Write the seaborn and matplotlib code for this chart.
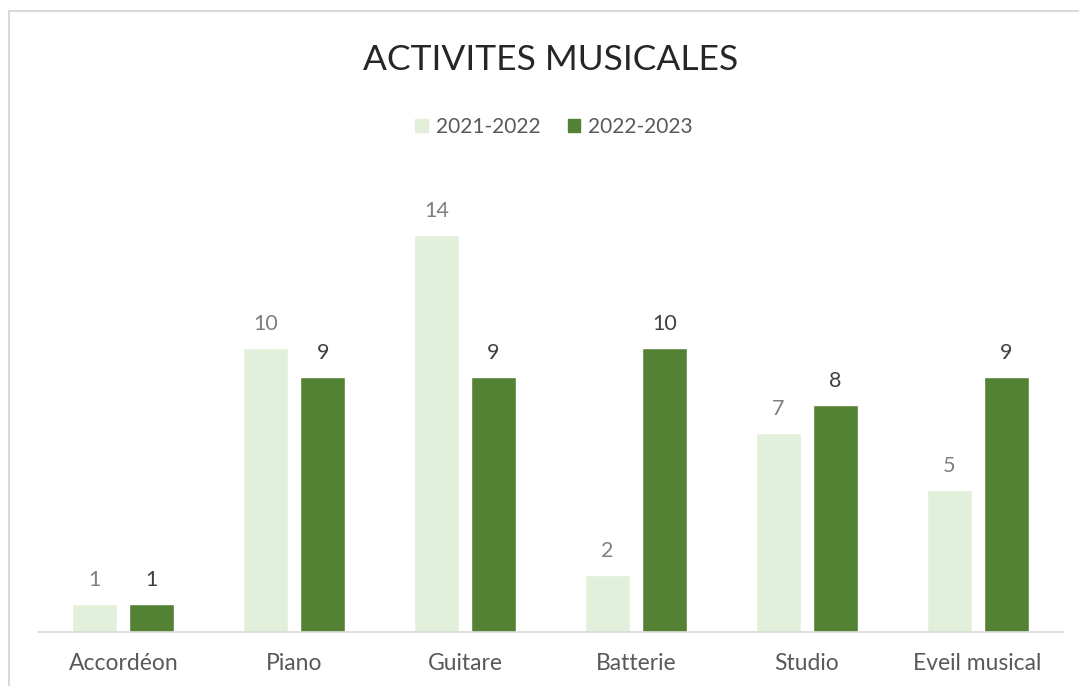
import matplotlib
matplotlib.use('Agg')
import matplotlib.pyplot as plt
import matplotlib.lines as mlines
import seaborn as sns
import pandas as pd

categories = ['Accordéon', 'Piano', 'Guitare', 'Batterie', 'Studio', 'Eveil musical']
season_a = [1, 10, 14, 2, 7, 5]
season_b = [1, 9, 9, 10, 8, 9]
seasons = ['2021-2022', '2022-2023']

df = pd.DataFrame({
    'Activite': categories * 2,
    'Saison': [seasons[0]] * len(categories) + [seasons[1]] * len(categories),
    'Nombre': season_a + season_b,
})

sns.set_theme(style='white')
plt.rcParams['font.family'] = ['Lato', 'DejaVu Sans']

W, H = 1079, 686
fig = plt.figure(figsize=(W / 100, H / 100), dpi=100)
ax = fig.add_axes([38 / W, (H - 632) / H, (1063 - 38) / W, (632 - 178) / H])

palette = {seasons[0]: '#E2EFDA', seasons[1]: '#548235'}
sns.barplot(data=df, x='Activite', y='Nombre', hue='Saison', palette=palette,
            width=0.667, gap=0.21, ax=ax, legend=False, saturation=1)

ax.set_ylim(0, 16)
ax.set_xlim(-0.5, len(categories) - 0.5)
ax.set_xlabel('')
ax.set_ylabel('')
ax.set_yticks([])
for s in ['top', 'right', 'left']:
    ax.spines[s].set_visible(False)
ax.spines['bottom'].set_color('#D9D9D9')
ax.spines['bottom'].set_linewidth(1.2)
ax.tick_params(axis='x', length=0, pad=15, labelsize=16.5, labelcolor='#595959')

label_colors = ['#7F7F7F', '#404040']
for cont, col in zip(ax.containers, label_colors):
    ax.bar_label(cont, padding=10, fontsize=15.5, color=col)

fig.text(551 / W, 1 - 60 / H, 'ACTIVITES MUSICALES', ha='center', va='center',
         fontsize=25.5, color='#262626')

# legend
handles = [plt.Rectangle((0, 0), 1, 1, color=palette[s]) for s in seasons]
fig.legend(handles, seasons, loc='center', bbox_to_anchor=(554 / W, 1 - 127 / H),
           ncol=2, frameon=False, fontsize=15, labelcolor='#595959',
           handlelength=0.6, handleheight=0.6, handletextpad=0.4, columnspacing=1.3)

# chart border (partially visible)
fig.add_artist(mlines.Line2D([9 / W, 9 / W], [0, 1 - 11 / H], color='#D9D9D9', lw=1.5))
fig.add_artist(mlines.Line2D([9 / W, 1], [1 - 11 / H, 1 - 11 / H], color='#D9D9D9', lw=1.5))

fig.savefig('out.png', dpi=100)
